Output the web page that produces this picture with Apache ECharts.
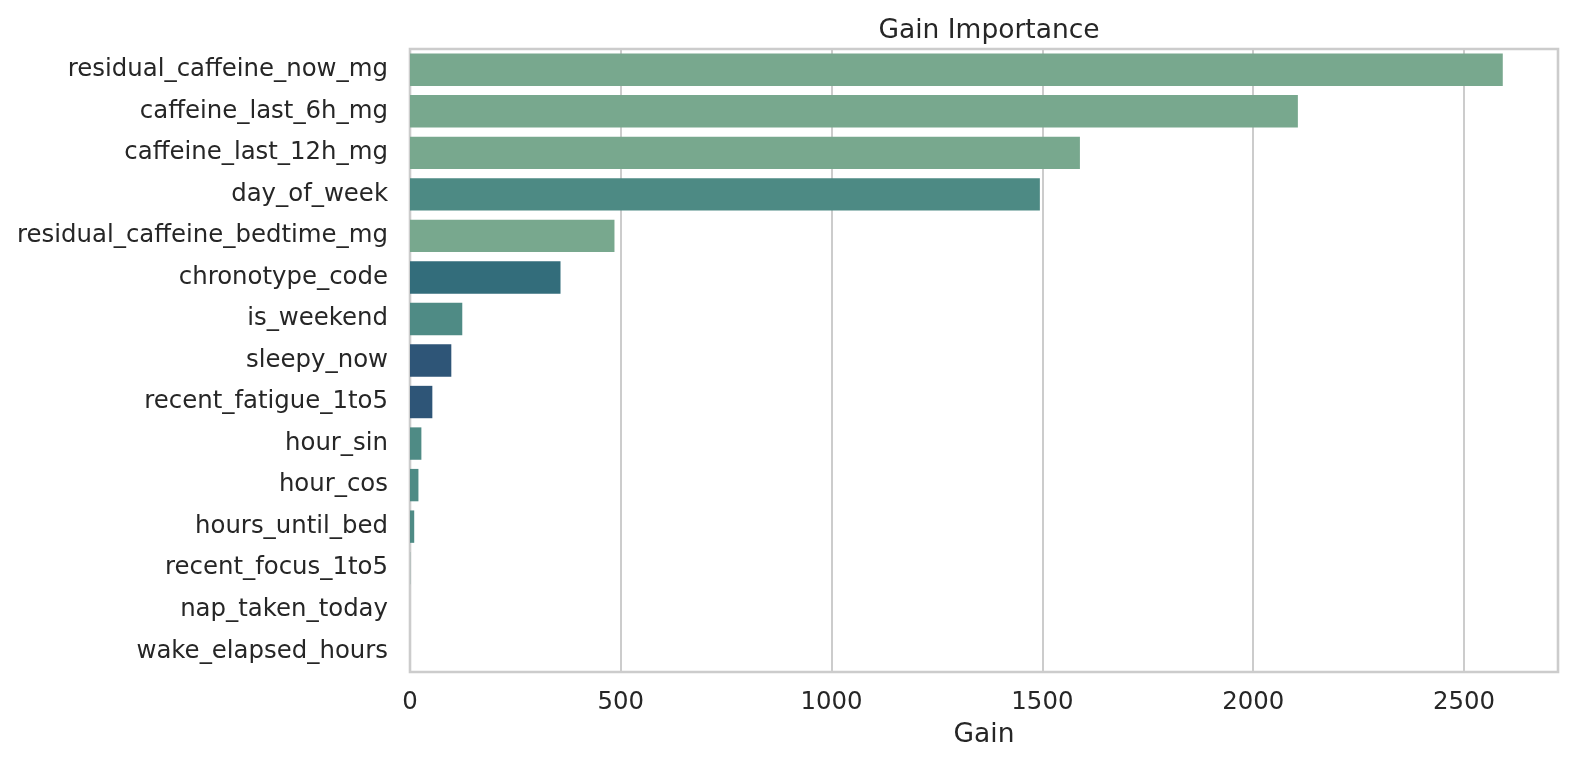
<!DOCTYPE html>
<html>
<head>
<meta charset="utf-8">
<title>Gain Importance</title>
<script src="https://cdn.jsdelivr.net/npm/echarts@6/dist/echarts.min.js"></script>
<style>
  html, body { margin: 0; padding: 0; background: #ffffff; }
  #main { width: 1574px; height: 769px; }
</style>
</head>
<body>
<div id="main"></div>
<script>
// feature names, top to bottom
var features = [
	'residual_caffeine_now_mg', 'caffeine_last_6h_mg', 'caffeine_last_12h_mg',
	'day_of_week', 'residual_caffeine_bedtime_mg', 'chronotype_code',
	'is_weekend', 'sleepy_now', 'recent_fatigue_1to5', 'hour_sin',
	'hour_cos', 'hours_until_bed', 'recent_focus_1to5', 'nap_taken_today',
	'wake_elapsed_hours'
];
// gain values
var gains = [2592, 2106, 1589, 1494, 485, 357, 124, 98, 53, 27, 20, 10, 1, 0, 0];
// bar colours (crest-like palette)
var barColors = [
	'#78a88e', '#78a88e', '#78a88e', '#4d8a84', '#78a88e', '#336d7b',
	'#4f8b85', '#2e5577', '#2e5577', '#4f8b85', '#4f8b85', '#4f8b85',
	'#9fb5b0', '#4f8b85', '#4f8b85'
];
var xTicks = [0, 500, 1000, 1500, 2000, 2500];

var txt = '#262626';
var font = 'DejaVu Sans';

var myChart = echarts.init(document.getElementById('main'));
var option = {
	animation: false,
	backgroundColor: '#ffffff',
	textStyle: { fontFamily: font },
	title: {
		text: 'Gain Importance',
		left: 984,
		textAlign: 'center',
		top: 13,
		textStyle: { fontFamily: font, fontSize: 26.5, fontWeight: 'normal', color: txt }
	},
	grid: {
		left: 410,
		right: 16,
		top: 49,
		bottom: 97,
		show: true,
		borderColor: '#cccccc',
		borderWidth: 2.6,
		backgroundColor: 'transparent'
	},
	xAxis: {
		type: 'value',
		min: 0,
		max: 2723,
		interval: 500,
		name: 'Gain',
		nameLocation: 'middle',
		nameGap: 50,
		nameTextStyle: { fontFamily: font, fontSize: 26.5, color: txt },
		axisLine: { show: false },
		axisTick: { show: false },
		axisLabel: {
			fontFamily: font, fontSize: 24.4, color: txt, margin: 19,
			showMaxLabel: false,
			formatter: function (v) { return xTicks.indexOf(v) >= 0 ? String(v) : ''; }
		},
		splitLine: { show: true, lineStyle: { color: '#cccccc', width: 2 } }
	},
	yAxis: {
		type: 'category',
		data: features,
		inverse: true,
		axisLine: { show: false },
		axisTick: { show: false },
		axisLabel: { fontFamily: font, fontSize: 24.4, color: txt, margin: 22 },
		splitLine: { show: false }
	},
	series: [{
		type: 'bar',
		barCategoryGap: '22%',
		data: gains.map(function (g, i) {
			return { value: g, itemStyle: { color: barColors[i] } };
		})
	}]
};
myChart.setOption(option);
</script>
</body>
</html>
